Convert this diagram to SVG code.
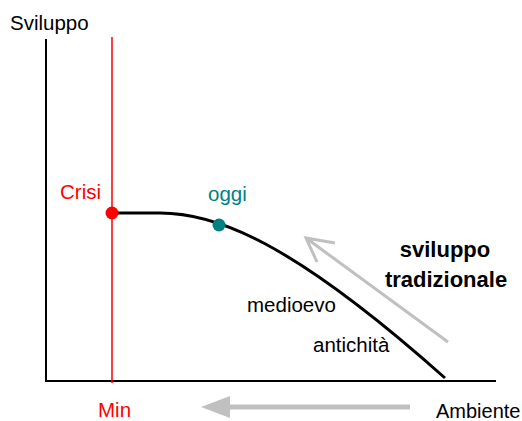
<svg xmlns="http://www.w3.org/2000/svg" width="522" height="421" viewBox="0 0 522 421">
<style>
text{font-family:"Liberation Sans",Arial,sans-serif;font-size:20.5px;fill:#000}
.red{fill:#ff0000}
.teal{fill:#008080}
.bold{font-weight:bold;font-size:22px}
.axis{stroke:#000;stroke-width:2;fill:none}
.gray{stroke:#c0c0c0;fill:none}
</style>
<rect width="522" height="421" fill="#fff"/>
<g id="connectors">
<line class="axis" x1="46" y1="39" x2="46" y2="381"/>
<line class="axis" x1="45" y1="381" x2="496" y2="381"/>
<line x1="112" y1="37" x2="112" y2="383" stroke="#ff0000" stroke-width="1.5"/>
<path d="M112,213 L160,213 C215,213 290,240 445,378" fill="none" stroke="#000" stroke-width="3"/>
<path class="gray" stroke-width="3" d="M448,342 L306,238 M335,243 L306,238 L317,262"/>
<line class="gray" stroke-width="5" x1="226" y1="407" x2="410" y2="407"/>
<path d="M201,407 L230,396 L230,418 Z" fill="#c0c0c0"/>
</g>
<g id="crisi">
<circle cx="112" cy="213" r="6.5" fill="#ff0000"/>
<text class="red" x="60" y="199">Crisi</text>
</g>
<g id="oggi">
<circle cx="219" cy="225" r="6.5" fill="#008080"/>
<text class="teal" x="208" y="201">oggi</text>
</g>
<g id="labels">
<text x="10" y="30">Sviluppo</text>
<text x="247" y="312">medioevo</text>
<text x="313" y="352">antichità</text>
<text class="bold" x="445" y="257" text-anchor="middle">sviluppo</text>
<text class="bold" x="446" y="287" text-anchor="middle">tradizionale</text>
<text class="red" x="98" y="417">Min</text>
<text x="436" y="418" style="font-size:20px">Ambiente</text>
</g>
</svg>
